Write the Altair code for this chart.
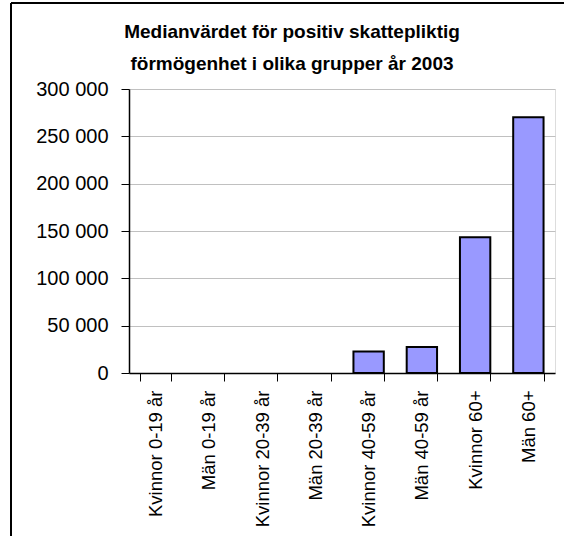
import altair as alt
import pandas as pd

categories = ["Kvinnor 0-19 år", "Män 0-19 år", "Kvinnor 20-39 år", "Män 20-39 år",
              "Kvinnor 40-59 år", "Män 40-59 år", "Kvinnor 60+", "Män 60+"]
values = [0, 0, 0, 0, 22800, 27400, 143500, 270100]
y_ticks = [0, 50000, 100000, 150000, 200000, 250000, 300000]
title_lines = ["Medianvärdet för positiv skattepliktig", "förmögenhet i olika grupper år 2003"]

df = pd.DataFrame({"grupp": categories, "varde": values})

FONT = "Liberation Sans"
W, H = 426, 284
PAD_L, PAD_T = 129, 89

bars = alt.Chart(df).transform_filter("datum.varde > 0").mark_bar(
    color="#9999FF", stroke="black", strokeWidth=2
).encode(
    x=alt.X("grupp:N", sort=categories, title=None,
            scale=alt.Scale(domain=categories, paddingInner=0.43, paddingOuter=0.215),
            axis=alt.Axis(labelAngle=-90, labelFontSize=18.5, labelFont=FONT,
                          labelColor="black", labelPadding=9,
                          tickBand="extent", tickSize=8, tickColor="black",
                          domainColor="black", domainWidth=1.5, tickWidth=1,
                          grid=False, labelAlign="right", labelBaseline="middle")),
    y=alt.Y("varde:Q", title=None,
            scale=alt.Scale(domain=[0, 300000], nice=False),
            axis=alt.Axis(values=y_ticks, labelFontSize=20, labelFont=FONT,
                          labelColor="black", labelPadding=13, tickSize=8,
                          tickColor="black", domainColor="black", domainWidth=1.5,
                          gridColor="#c0c0c0", gridWidth=1,
                          labelExpr="replace(format(datum.value, ','), regexp(',', 'g'), ' ')")),
)

frame_df = pd.DataFrame({"a": [0]})
top_line = alt.Chart(frame_df).mark_rule(color="black", strokeWidth=2).encode(
    x=alt.value(-(PAD_L - 11)), x2=alt.value(W + 40), y=alt.value(-(PAD_T - 3)))
left_line = alt.Chart(frame_df).mark_rule(color="black", strokeWidth=2).encode(
    x=alt.value(-(PAD_L - 11)), y=alt.value(-(PAD_T - 3)), y2=alt.value(H + 200))

chart = alt.layer(bars, top_line, left_line).properties(
    width=W, height=H,
    autosize=alt.AutoSizeParams(type="none"),
    padding={"left": PAD_L, "top": PAD_T, "right": 564 - PAD_L - W, "bottom": 536 - PAD_T - H},
    title=alt.TitleParams(title_lines, fontSize=19, font=FONT, fontWeight="bold",
                          color="black", anchor="middle", frame="group", dx=-50,
                          lineHeight=32, offset=-72),
).configure_view(stroke="#a0a0a0", strokeWidth=1.5).configure(background="white")

chart.save("out.html", embed_options={"renderer": "svg", "actions": False})
